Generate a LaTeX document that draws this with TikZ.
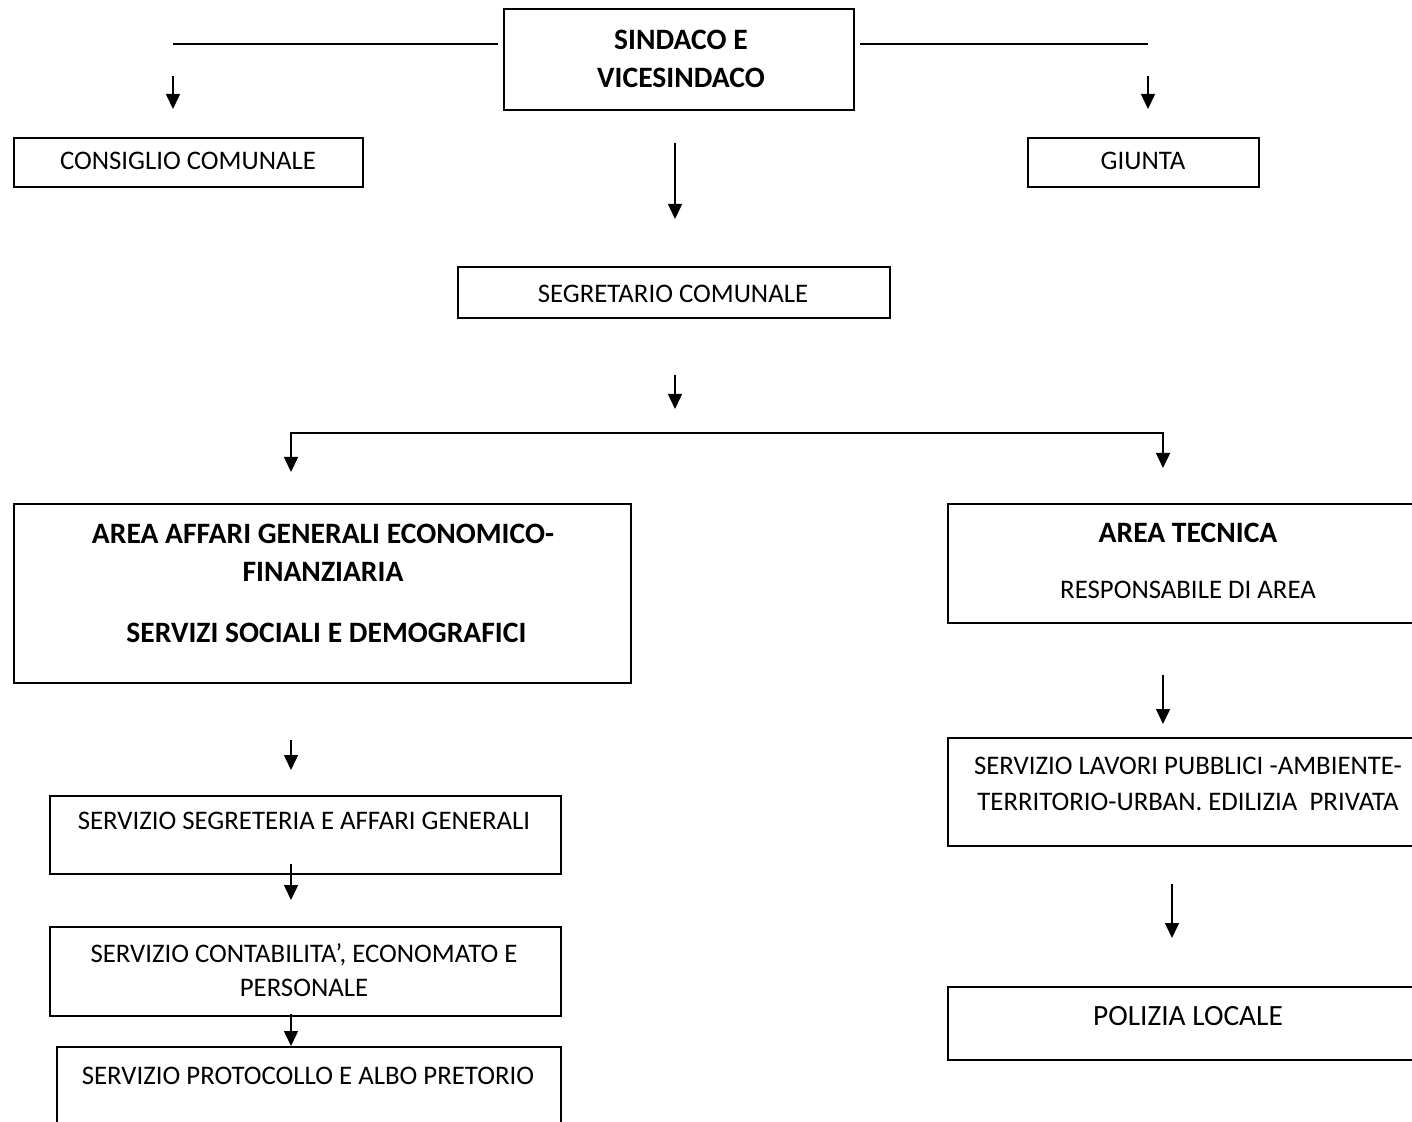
\documentclass[tikz,border=0pt]{standalone}
\usepackage{fontspec}
\setmainfont{Carlito}
\usetikzlibrary{arrows.meta}

\tikzset{
  box/.style={draw, line width=1pt, anchor=north west, inner sep=0pt},
  txt/.style={align=center, inner sep=0pt, font=\fontsize{13.4}{17}\selectfont},
  btxt/.style={txt, font=\fontsize{14.8}{19}\selectfont\bfseries},
  link/.style={line width=0.75pt},
  arr/.style={link, -{Triangle[width=7pt,length=7.5pt]}},
  darr/.style={link, {Triangle[width=7pt,length=7.5pt]}-{Triangle[width=7pt,length=7.5pt]}}
}

\begin{document}
\begin{tikzpicture}[x=0.5pt, y={(0pt,-0.5pt)}]
  \useasboundingbox (0,0) rectangle (1412,1122);
  \clip (0,0) rectangle (1412,1122);

  % vertice
  \node[box, minimum width=175pt, minimum height=50.5pt] (sindaco) at (503,8) {};
  \node[btxt] (sindaco-t) at (681,59) {SINDACO E\\VICESINDACO};

  \node[box, minimum width=174.5pt, minimum height=24.5pt] (consiglio) at (13,137) {};
  \node[txt] (consiglio-t) at (188,161) {CONSIGLIO COMUNALE};

  \node[box, minimum width=115.5pt, minimum height=24.5pt] (giunta) at (1027,137) {};
  \node[txt] (giunta-t) at (1143,161) {GIUNTA};

  \node[box, minimum width=216pt, minimum height=25.5pt] (segretario) at (457,266) {};
  \node[txt] (segretario-t) at (673,294) {SEGRETARIO COMUNALE};

  % aree
  \node[box, minimum width=308.5pt, minimum height=89.5pt] (affari) at (13,503) {};
  \node[btxt] (affari-t) at (323,583) {AREA AFFARI GENERALI ECONOMICO-\\FINANZIARIA\\[11.5pt]
    \ SERVIZI SOCIALI E DEMOGRAFICI};

  \node[box, minimum width=241.5pt, minimum height=59.5pt] (tecnica) at (947,503) {};
  \node[btxt] (tecnica-t) at (1188,533) {AREA TECNICA};
  \node[txt] (tecnica-r) at (1188,590) {RESPONSABILE DI AREA};

  % servizi area tecnica
  \node[box, minimum width=241.5pt, minimum height=54pt] (lavori) at (947,737) {};
  \node[txt, font=\fontsize{13.4}{18}\selectfont] (lavori-t) at (1188,784)
    {SERVIZIO LAVORI PUBBLICI -AMBIENTE-\\TERRITORIO-URBAN. EDILIZIA\ \ PRIVATA};

  \node[box, minimum width=241.5pt, minimum height=36.5pt] (polizia) at (947,986) {};
  \node[txt, font=\fontsize{14.7}{17}\selectfont] (polizia-t) at (1188,1016) {POLIZIA LOCALE};

  % servizi area affari generali
  \node[box, minimum width=255.5pt, minimum height=39pt] (segreteria) at (49,795) {};
  \node[txt] (segreteria-t) at (304,821) {SERVIZIO SEGRETERIA E AFFARI GENERALI};

  \node[box, minimum width=255.5pt, minimum height=44.5pt] (contab) at (49,926) {};
  \node[txt] (contab-t) at (304,970) {SERVIZIO CONTABILITA’, ECONOMATO E\\PERSONALE};

  \node[box, minimum width=252pt, minimum height=50pt] (protocollo) at (56,1046) {};
  \node[txt] (protocollo-t) at (308,1076) {SERVIZIO PROTOCOLLO E ALBO PRETORIO};

  % punti liberi
  \coordinate (lin-l) at (173,44);
  \coordinate (lin-r) at (1148,44);
  \coordinate (col-l) at (291,433);
  \coordinate (col-r) at (1163,433);
  \coordinate (col-p) at (1172,0);

  % linee del sindaco
  \draw[link, shorten >=2.5pt] (lin-l) -- (lin-l -| sindaco.west);
  \draw[link, shorten >=2.5pt] (lin-r) -- (lin-r -| sindaco.east);
  \draw[arr, shorten <=16pt, shorten >=14pt] (lin-l) -- (lin-l |- consiglio.north);
  \draw[arr, shorten <=16pt, shorten >=14pt] (lin-r) -- (lin-r |- giunta.north);
  \draw[arr, shorten <=16pt, shorten >=23.5pt] (675,0 |- sindaco.south) -- (675,0 |- segretario.north);

  % diramazione
  \draw[arr, shorten <=28pt, shorten >=12pt] (675,0 |- segretario.south) -- (675,0 |- col-l);
  \draw[darr, shorten <=15.5pt, shorten >=17.5pt]
    (col-l |- affari.north) -- (col-l) -- (col-r) -- (col-r |- tecnica.north);

  % frecce a sinistra
  \draw[arr, shorten <=28pt, shorten >=12.5pt] (col-l |- affari.south) -- (col-l |- segreteria.north);
  \draw[arr, shorten <=-5.5pt, shorten >=13pt] (col-l |- segreteria.south) -- (col-l |- contab.north);
  \draw[arr, shorten <=-1.5pt] (col-l |- contab.south) -- (col-l |- protocollo.north);

  % frecce a destra
  \draw[arr, shorten <=25.5pt, shorten >=6.5pt] (col-r |- tecnica.south) -- (col-r |- lavori.north);
  \draw[arr, shorten <=18.5pt, shorten >=24pt] (col-p |- lavori.south) -- (col-p |- polizia.north);
\end{tikzpicture}
\end{document}
